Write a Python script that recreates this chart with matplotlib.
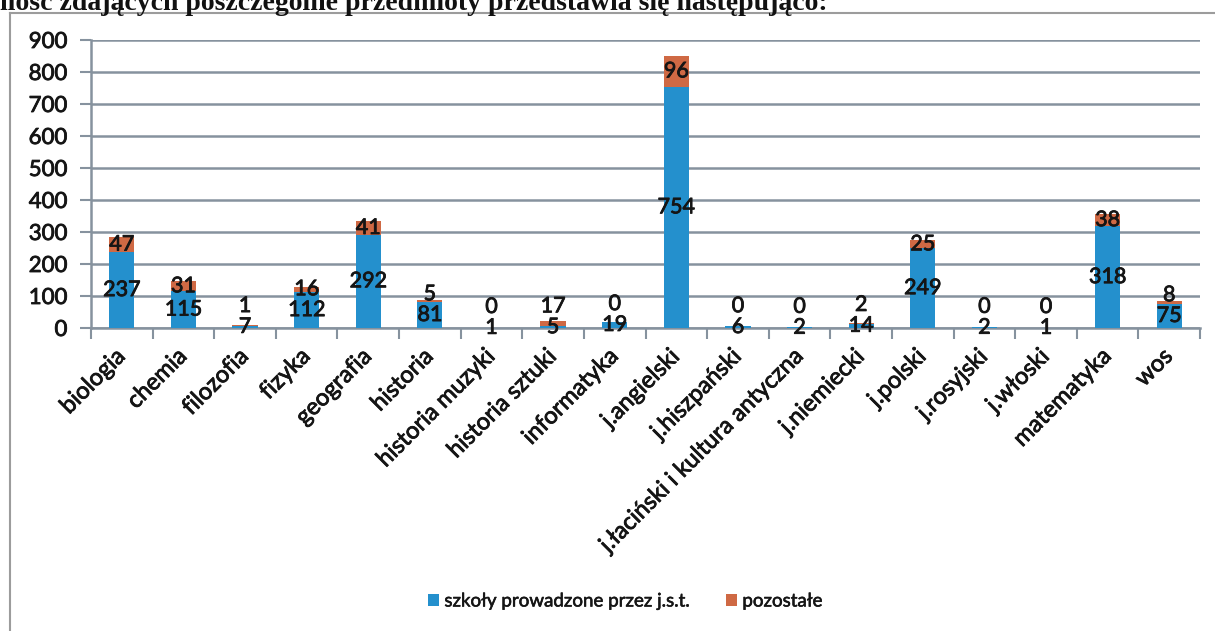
import matplotlib
matplotlib.use("Agg")
import matplotlib.pyplot as plt
import matplotlib.patheffects as pe
from matplotlib.patches import Patch
from matplotlib.lines import Line2D

plt.rcParams['font.family'] = ['Lato', 'DejaVu Sans']

# data
subjects = ["biologia", "chemia", "filozofia", "fizyka", "geografia", "historia",
            "historia muzyki", "historia sztuki", "informatyka", "j.angielski",
            "j.hiszpański", "j.łaciński i kultura antyczna", "j.niemiecki",
            "j.polski", "j.rosyjski", "j.włoski", "matematyka", "wos"]
jst = [237, 115, 7, 112, 292, 81, 1, 5, 19, 754, 6, 2, 14, 249, 2, 1, 318, 75]
other = [47, 31, 1, 16, 41, 5, 0, 17, 0, 96, 0, 0, 2, 25, 0, 0, 38, 8]
series_names = ["szkoły prowadzone przez j.s.t.", "pozostałe"]
yticks = list(range(0, 901, 100))

blue = "#2490cd"
orange = "#cf6944"
grid_col = "#86929e"
txt_col = "#151515"
# the scan makes every text look a bit heavier
heavy = [pe.withStroke(linewidth=0.6, foreground=txt_col)]

W, H = 1215, 631
fig = plt.figure(figsize=(W / 100, H / 100), dpi=100)
fig.patch.set_facecolor("white")

# header line of the scanned page, partly cut by the top edge as in the scan
fig.text(0.0, 1 - 10 / H, "ilość zdających poszczególne przedmioty przedstawia się następująco:",
         family="Liberation Serif", weight="bold", fontsize=20, va="baseline", ha="left",
         color="#111111")

# chart frame (left and top edges visible)
fig.add_artist(Line2D([10 / W, 10 / W], [0, 1 - 13 / H], transform=fig.transFigure,
                      color="#9c9c9c", lw=1.5))
fig.add_artist(Line2D([10 / W, 1], [1 - 13 / H, 1 - 13 / H], transform=fig.transFigure,
                      color="#9c9c9c", lw=1.5))

ax = fig.add_axes([91 / W, 1 - 328 / H, (1200 - 91) / W, (328 - 40) / H])
x = list(range(len(subjects)))
ax.bar(x, jst, width=0.41, color=blue, zorder=3)
ax.bar(x, other, width=0.41, bottom=jst, color=orange, zorder=3)

ax.set_xlim(-0.5, len(subjects) - 0.5)
ax.set_ylim(0, 900)
ax.set_yticks(yticks)
ax.yaxis.grid(True, color=grid_col, lw=1.8, zorder=0)
ax.tick_params(axis="y", length=8, width=1.5, color=grid_col, pad=9, labelsize=16,
               labelcolor=txt_col)
for s in ["top", "right"]:
    ax.spines[s].set_visible(False)
for s in ["left", "bottom"]:
    ax.spines[s].set_color(grid_col)
    ax.spines[s].set_linewidth(1.8)

ax.set_xticks(x)
ax.set_xticklabels(subjects, rotation=45, ha="right", va="center",
                   rotation_mode="anchor", fontsize=17, color=txt_col)
ax.set_xticks([i - 0.5 for i in range(len(subjects) + 1)], minor=True)
ax.tick_params(axis="x", which="major", length=0, pad=18)
ax.tick_params(axis="x", which="minor", length=8, width=1.5, color=grid_col)
for lab in ax.get_xticklabels() + ax.get_yticklabels():
    lab.set_path_effects(heavy)

# data labels
lab_kw = dict(ha="center", va="center", fontsize=15.5, color=txt_col,
              zorder=5, annotation_clip=False, path_effects=heavy)
for i in x:
    b, o = jst[i], other[i]
    ax.annotate(str(b), (i, b / 2), **lab_kw)
    if o < 20:
        ax.annotate(str(o), (i, b / 2), xytext=(0, 15), textcoords="offset points", **lab_kw)
    else:
        ax.annotate(str(o), (i, b + o / 2), **lab_kw)

handles = [Patch(facecolor=blue), Patch(facecolor=orange)]
leg = fig.legend(handles, series_names, loc="center", bbox_to_anchor=(625 / W, 1 - 601 / H),
                 ncol=2, frameon=False, handlelength=0.6, handleheight=0.6,
                 handletextpad=0.3, columnspacing=1.9, prop={"size": 13.5})
for t in leg.get_texts():
    t.set_color(txt_col)
    t.set_path_effects([pe.withStroke(linewidth=0.4, foreground=txt_col)])

fig.savefig("out.png", dpi=100, facecolor="white")
